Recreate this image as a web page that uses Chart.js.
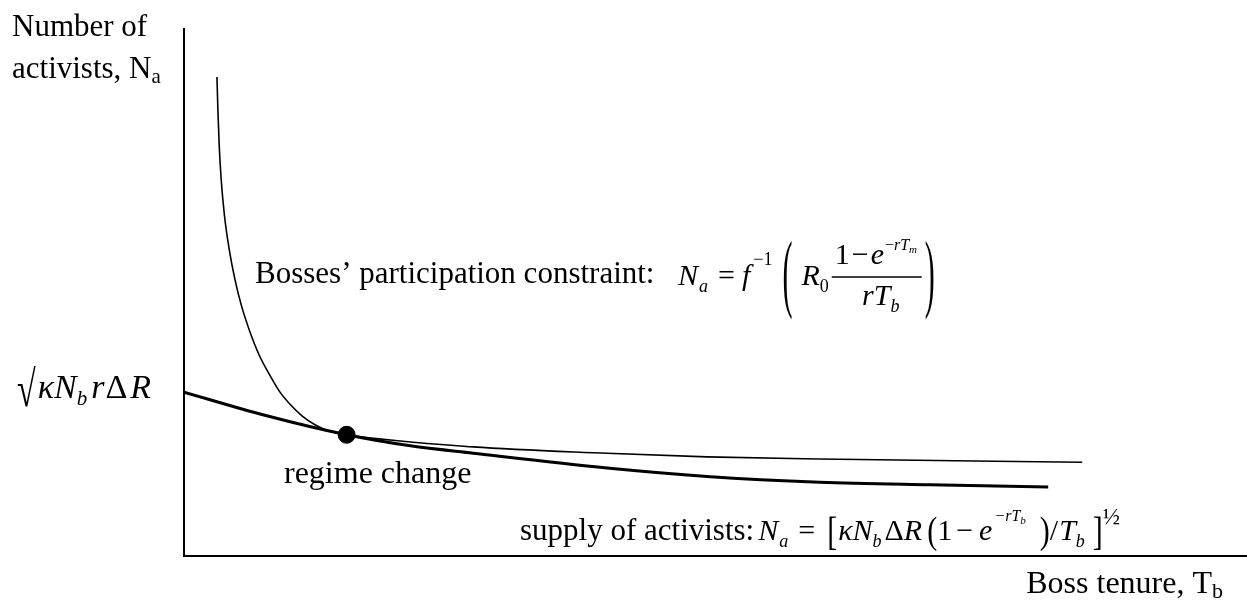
<!DOCTYPE html>
<html>
<head>
<meta charset="utf-8">
<script src="https://cdn.jsdelivr.net/npm/chart.js@4.4.0/dist/chart.umd.min.js"></script>
<style>
body { margin:0; background:#fff; }
#chart_div { width:1247px; height:610px; }
</style>
</head>
<body>
<div id="chart_div"><canvas id="regime_chart" width="1247" height="610"></canvas></div>
<script>
// boss tenure T_b (x) and number of activists N_a (y), schematic units 0..10
var supplyTenure    = [0, 0.76, 1.53, 2.13, 2.72, 3.98, 4.92, 5.98, 7.02, 8.13];
var supplyActivists = [3.11, 2.67, 2.30, 2.09, 1.95, 1.67, 1.51, 1.40, 1.35, 1.31];

var bossesTenure    = [0.310, 0.319, 0.331, 0.350, 0.380, 0.426, 0.480, 0.539, 0.614, 0.708, 0.805,
                       0.903, 1.002, 1.110, 1.232, 1.364, 1.531, 2.72, 3.98, 4.92, 5.98, 8.45];
var bossesActivists = [9.09, 8.46, 7.80, 7.14, 6.47, 5.81, 5.24, 4.76, 4.29, 3.81, 3.44,
                       3.11, 2.87, 2.66, 2.49, 2.37, 2.30, 2.07, 1.95, 1.88, 1.84, 1.78];

var regimeTenure    = [1.53];
var regimeActivists = [2.30];

var axisMin = 0;
var axisMax = 10;

var SERIF = '"Liberation Serif", "Times New Roman", serif';

function toPoints(xs, ys) {
	var pts = [];
	for (var ix in xs) {
		pts.push({x: xs[ix], y: ys[ix]});
	}
	return pts;
}

// draws a row of text pieces one after the other
// piece: t text, s size, it italic, dx gap before, dy baseline shift, sy vertical stretch
function drawRun(ctx, x, y, parts) {
	for (var ix in parts) {
		var p = parts[ix];
		ctx.font = (p.it ? 'italic ' : '') + p.s + 'px ' + SERIF;
		x += (p.dx || 0);
		if (p.sy) {
			ctx.save();
			ctx.translate(x, y + (p.dy || 0));
			ctx.scale(1, p.sy);
			ctx.fillText(p.t, 0, 0);
			ctx.restore();
		} else {
			ctx.fillText(p.t, x, y + (p.dy || 0));
		}
		x += ctx.measureText(p.t).width;
	}
	return x;
}

function runWidth(ctx, parts) {
	var w = 0;
	for (var ix in parts) {
		var p = parts[ix];
		ctx.font = (p.it ? 'italic ' : '') + p.s + 'px ' + SERIF;
		w += (p.dx || 0) + ctx.measureText(p.t).width;
	}
	return w;
}

var labelsPlugin = {
	id: 'labels',
	afterDraw: function(chart) {
		var ctx = chart.ctx;
		ctx.save();
		ctx.fillStyle = '#000';
		ctx.strokeStyle = '#000';
		ctx.textBaseline = 'alphabetic';

		// axis titles
		drawRun(ctx, 12, 36, [{t: 'Number of', s: 31}]);
		drawRun(ctx, 12, 78, [{t: 'activists, N', s: 31}, {t: 'a', s: 21, dy: 5}]);
		var xTitle = [{t: 'Boss tenure, T', s: 32}, {t: 'b', s: 22, dy: 5}];
		drawRun(ctx, 1223 - runWidth(ctx, xTitle), 593, xTitle);

		// intercept on the activists axis
		drawRun(ctx, 17, 398, [
			{t: '\u221A', s: 34, sy: 1.5, dy: 8}, {t: '\u03BA', s: 34, it: true, dx: 2},
			{t: 'N', s: 34, it: true},
			{t: 'b', s: 21, it: true, dy: 7}, {t: 'r', s: 34, it: true, dx: 4},
			{t: '\u0394', s: 34, dx: 1}, {t: 'R', s: 34, it: true, dx: 3}
		]);

		drawRun(ctx, 284, 483, [{t: 'regime change', s: 32}]);

		// bosses' participation constraint
		drawRun(ctx, 255, 283, [{t: 'Bosses\u2019 participation constraint:', s: 31}]);
		var x = drawRun(ctx, 678, 285, [
			{t: 'N', s: 30, it: true}, {t: 'a', s: 18, it: true, dy: 7, dx: 1},
			{t: '=', s: 30, dx: 10}, {t: 'f', s: 30, it: true, dx: 7},
			{t: '\u22121', s: 18, dy: -20, dx: 3},
			{t: '(', s: 30, sy: 2.9, dy: 16, dx: 10},
			{t: 'R', s: 30, it: true, dx: 9}, {t: '0', s: 18, dy: 7}
		]);
		var barL = x + 3, barR = x + 93;
		ctx.lineWidth = 1.5;
		ctx.beginPath();
		ctx.moveTo(barL, 277);
		ctx.lineTo(barR, 277);
		ctx.stroke();
		drawRun(ctx, barL + 3, 264, [
			{t: '1', s: 30}, {t: '\u2212', s: 30, dx: 2}, {t: 'e', s: 30, it: true, dx: 2},
			{t: '\u2212', s: 16, dy: -14, dx: 1}, {t: 'rT', s: 16, it: true, dy: -14},
			{t: 'm', s: 11, it: true, dy: -11}
		]);
		var den = [{t: 'rT', s: 30, it: true}, {t: 'b', s: 18, it: true, dy: 7}];
		drawRun(ctx, (barL + barR) / 2 - runWidth(ctx, den) / 2 + 4, 305, den);
		drawRun(ctx, barR + 3, 285, [{t: ')', s: 30, sy: 2.9, dy: 16}]);

		// supply of activists
		var sx = drawRun(ctx, 520, 540, [{t: 'supply of activists:', s: 31}]);
		drawRun(ctx, sx + 4, 540, [
			{t: 'N', s: 30, it: true}, {t: 'a', s: 18, it: true, dy: 7, dx: 1},
			{t: '=', s: 30, dx: 10}, {t: '[', s: 30, sy: 1.35, dy: 5, dx: 12},
			{t: '\u03BA', s: 30, it: true, dx: 1}, {t: 'N', s: 30, it: true},
			{t: 'b', s: 18, it: true, dy: 7}, {t: '\u0394', s: 30, dx: 3},
			{t: 'R', s: 30, it: true}, {t: '(', s: 30, sy: 1.25, dy: 3, dx: 5},
			{t: '1', s: 30}, {t: '\u2212', s: 30, dx: 4}, {t: 'e', s: 30, it: true, dx: 6},
			{t: '\u2212rT', s: 16, it: true, dy: -19, dx: 2}, {t: 'b', s: 11, it: true, dy: -16},
			{t: ')', s: 30, sy: 1.25, dy: 3, dx: 14}, {t: '/', s: 30},
			{t: 'T', s: 30, it: true, dx: 1}, {t: 'b', s: 18, it: true, dy: 7},
			{t: ']', s: 30, sy: 1.35, dy: 5, dx: 8}, {t: '\u00BD', s: 23, dy: -16}
		]);
		ctx.restore();
	}
};

var ctx = document.getElementById('regime_chart');
var regimeChart = new Chart(ctx, {
	type: 'scatter',
	data: {
		datasets: [{
			label: 'supply of activists',
			data: toPoints(supplyTenure, supplyActivists),
			showLine: true,
			borderColor: '#000',
			borderWidth: 3,
			pointRadius: 0,
			cubicInterpolationMode: 'monotone'
		}, {
			label: "bosses' participation constraint",
			data: toPoints(bossesTenure, bossesActivists),
			showLine: true,
			borderColor: '#000',
			borderWidth: 1.6,
			pointRadius: 0,
			cubicInterpolationMode: 'monotone'
		}, {
			label: 'regime change',
			data: toPoints(regimeTenure, regimeActivists),
			backgroundColor: '#000',
			borderColor: '#000',
			pointRadius: 8.5
		}]
	},
	options: {
		responsive: false,
		animation: false,
		layout: {
			autoPadding: false,
			padding: {left: 184, top: 29, right: 0, bottom: 54}
		},
		plugins: {
			legend: {display: false},
			tooltip: {enabled: false}
		},
		scales: {
			x: {
				type: 'linear',
				min: axisMin,
				max: axisMax,
				ticks: {display: false},
				grid: {display: false, drawTicks: false},
				border: {display: true, color: '#000', width: 2}
			},
			y: {
				type: 'linear',
				min: axisMin,
				max: axisMax,
				ticks: {display: false},
				grid: {display: false, drawTicks: false},
				border: {display: true, color: '#000', width: 2}
			}
		}
	},
	plugins: [labelsPlugin]
});
</script>
</body>
</html>
